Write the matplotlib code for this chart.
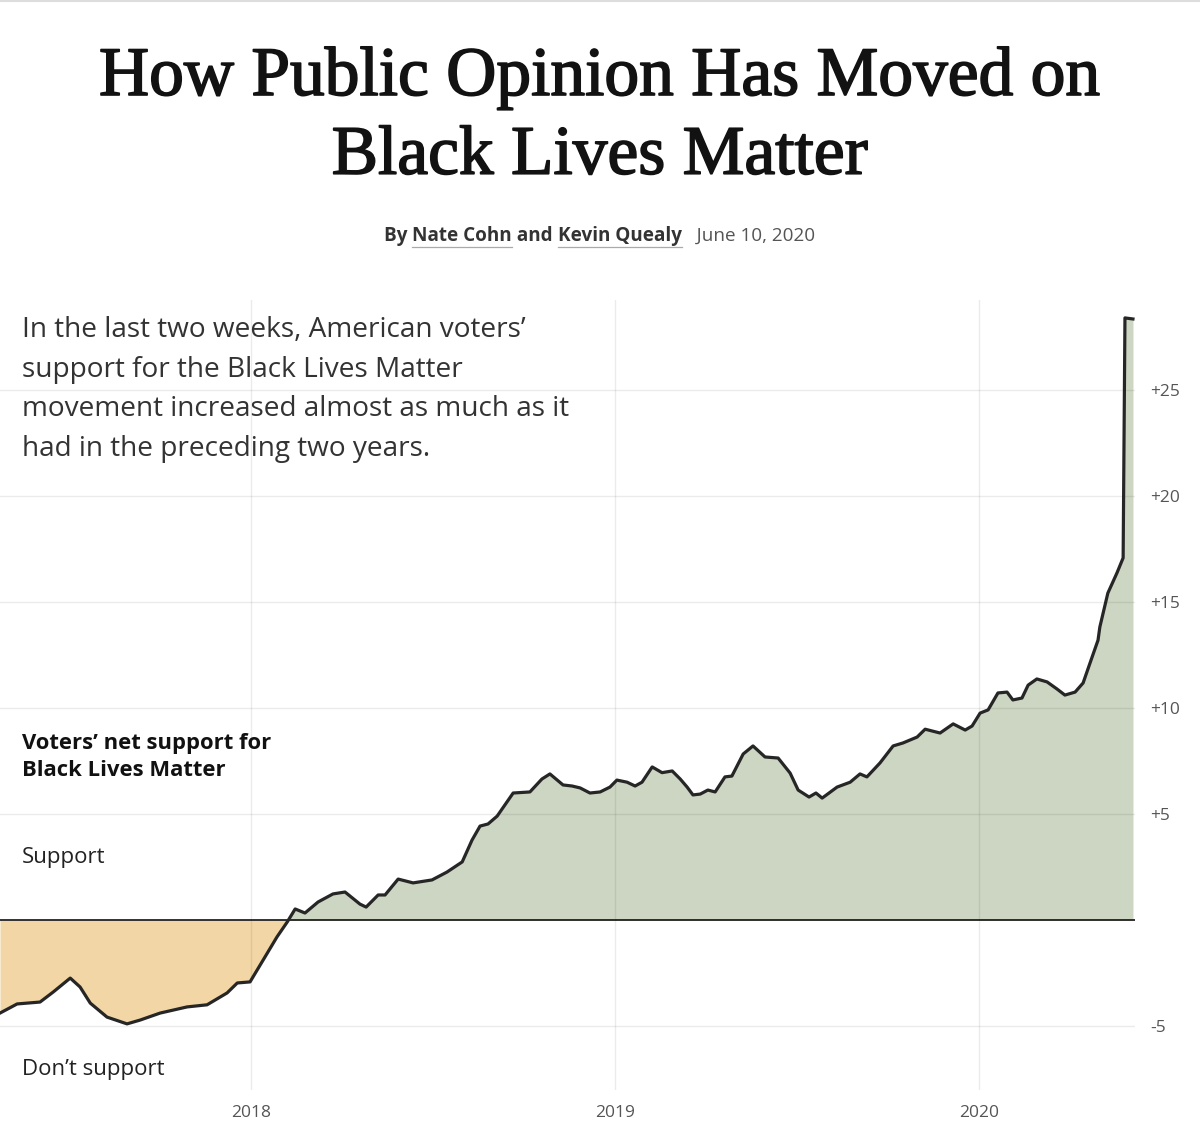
import matplotlib
matplotlib.use("Agg")
import matplotlib.pyplot as plt
import matplotlib.patheffects as pe
from matplotlib.lines import Line2D
import numpy as np

# net support (support minus oppose); x in decimal years
years = [2017.310, 2017.357, 2017.420, 2017.456, 2017.503, 2017.530, 2017.558, 2017.604,
         2017.659, 2017.695, 2017.750, 2017.824, 2017.879, 2017.934, 2017.962, 2017.997,
         2018.033, 2018.071, 2018.099, 2018.121, 2018.148, 2018.184, 2018.225, 2018.258,
         2018.299, 2018.316, 2018.349, 2018.368, 2018.404, 2018.445, 2018.497, 2018.538,
         2018.580, 2018.607, 2018.629, 2018.651, 2018.676, 2018.720, 2018.766, 2018.799,
         2018.821, 2018.857, 2018.882, 2018.904, 2018.931, 2018.959, 2018.986, 2019.005,
         2019.033, 2019.055, 2019.074, 2019.102, 2019.129, 2019.157, 2019.179, 2019.198,
         2019.214, 2019.234, 2019.255, 2019.275, 2019.302, 2019.321, 2019.352, 2019.379,
         2019.412, 2019.448, 2019.481, 2019.503, 2019.533, 2019.552, 2019.569, 2019.610,
         2019.646, 2019.673, 2019.692, 2019.728, 2019.764, 2019.791, 2019.830, 2019.852,
         2019.893, 2019.929, 2019.962, 2019.981, 2020.003, 2020.025, 2020.052, 2020.077,
         2020.093, 2020.118, 2020.135, 2020.159, 2020.187, 2020.214, 2020.236, 2020.264,
         2020.286, 2020.305, 2020.327, 2020.332, 2020.354, 2020.379, 2020.396, 2020.401,
         2020.423]
net_support = [-4.39, -3.96, -3.87, -3.40, -2.74, -3.16, -3.92, -4.58,
               -4.90, -4.72, -4.39, -4.10, -4.00, -3.44, -2.97, -2.92,
               -1.89, -0.80, -0.10, 0.52, 0.33, 0.85, 1.23, 1.32,
               0.75, 0.61, 1.18, 1.18, 1.93, 1.75, 1.89, 2.26,
               2.74, 3.77, 4.43, 4.53, 4.90, 5.99, 6.04, 6.65,
               6.89, 6.37, 6.32, 6.23, 5.99, 6.04, 6.27, 6.60,
               6.50, 6.32, 6.50, 7.22, 6.95, 7.03, 6.65, 6.27,
               5.90, 5.94, 6.13, 6.04, 6.75, 6.79, 7.83, 8.21,
               7.69, 7.64, 6.93, 6.13, 5.80, 5.99, 5.75, 6.27,
               6.50, 6.89, 6.75, 7.41, 8.21, 8.35, 8.63, 9.00,
               8.82, 9.25, 8.96, 9.15, 9.76, 9.91, 10.71, 10.75,
               10.38, 10.47, 11.08, 11.37, 11.23, 10.90, 10.61, 10.75,
               11.18, 12.12, 13.20, 13.82, 15.42, 16.37, 17.08, 28.40,
               28.35]

year_ticks = [2018, 2019, 2020]
y_ticks = [-5, 5, 10, 15, 20, 25]
y_labels = ["-5", "+5", "+10", "+15", "+20", "+25"]

title_lines = ["How Public Opinion Has Moved on", "Black Lives Matter"]
note_lines = ["In the last two weeks, American voters\u2019",
              "support for the Black Lives Matter",
              "movement increased almost as much as it",
              "had in the preceding two years."]

SANS = "Open Sans"
W, H = 1200, 1148
fig = plt.figure(figsize=(W / 100, H / 100), dpi=100)

def fy(py):
    return 1 - py / H

ax = fig.add_axes([0, fy(1090), 1135 / W, (1090 - 300) / H])
x = np.array(years)
y = np.array(net_support)

ax.fill_between(x, y, 0, where=y >= 0, interpolate=True, color="#cdd6c2", lw=0, zorder=0.3)
ax.fill_between(x, y, 0, where=y <= 0, interpolate=True, color="#f3d6a5", lw=0, zorder=0.3)
ax.axhline(0, color="#111111", lw=1.2, zorder=2)
ax.plot(x, y, color="#262626", lw=2.3, solid_joinstyle="round", zorder=3)

ax.set_xlim(2017.31, 2020.4286)
ax.set_ylim((920 - 1090) / 21.2, (920 - 300) / 21.2)
ax.set_axisbelow(True)
ax.grid(True, color="#000000", alpha=0.08, lw=1)
for s in ax.spines.values():
    s.set_visible(False)

ax.set_xticks(year_ticks)
ax.set_xticklabels([str(t) for t in year_ticks])
ax.set_yticks(y_ticks)
ax.set_yticklabels(y_labels)
ax.yaxis.tick_right()
ax.tick_params(axis="y", length=0, pad=11, labelsize=12.5, labelcolor="#555555")
ax.tick_params(axis="x", length=0, pad=11, labelsize=12.5, labelcolor="#555555")
for lab in ax.get_xticklabels() + ax.get_yticklabels():
    lab.set_fontfamily(SANS)

# top border line
fig.add_artist(Line2D([0, 1], [fy(1), fy(1)], color="#dddddd", lw=1.5))

# headline
thick = [pe.withStroke(linewidth=1.2, foreground="#121212")]
fig.text(0.5, fy(78), title_lines[0], ha="center", va="center",
         family="Liberation Serif", fontsize=50, color="#121212", path_effects=thick)
fig.text(0.5, fy(157), title_lines[1], ha="center", va="center",
         family="Liberation Serif", fontsize=50, color="#121212", path_effects=thick)

# byline
renderer = fig.canvas.get_renderer()
parts = [("By ", "bold", "#333333", False), ("Nate Cohn", "bold", "#333333", True),
         (" and ", "bold", "#333333", False), ("Kevin Quealy", "bold", "#333333", True),
         ("   June 10, 2020", "normal", "#555555", False)]
xpos = 384
for txt, wt, col, under in parts:
    t = fig.text(xpos / W, fy(241), txt, ha="left", va="baseline", family=SANS,
                 fontsize=13.6, weight=wt, color=col)
    bb = t.get_window_extent(renderer)
    if under:
        fig.add_artist(Line2D([bb.x0 / W, bb.x1 / W], [fy(247), fy(247)], color="#aaaaaa", lw=0.9))
    xpos += bb.width

# annotation paragraph
for i, line in enumerate(note_lines):
    fig.text(22 / W, fy(330 + i * 39.7), line, ha="left", va="center",
             family=SANS, fontsize=20.2, color="#333333")

fig.text(22 / W, fy(743), "Voters\u2019 net support for", ha="left", va="center",
         family=SANS, fontsize=15.8, weight="bold", color="#111111")
fig.text(22 / W, fy(771), "Black Lives Matter", ha="left", va="center",
         family=SANS, fontsize=15.8, weight="bold", color="#111111")
fig.text(22 / W, fy(858), "Support", ha="left", va="center",
         family=SANS, fontsize=16, color="#222222")
fig.text(22 / W, fy(1070), "Don\u2019t support", ha="left", va="center",
         family=SANS, fontsize=16, color="#222222")

fig.savefig("out.png", dpi=100, facecolor="white")
